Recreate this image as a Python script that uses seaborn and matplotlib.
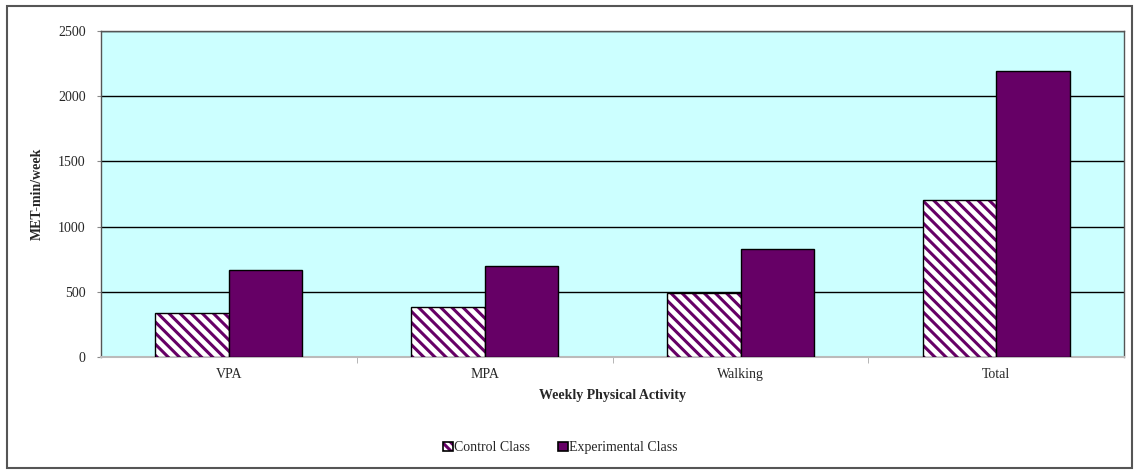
import matplotlib
matplotlib.use("Agg")
import matplotlib.pyplot as plt
import matplotlib.colors as mcolors
from matplotlib.patches import Rectangle
import numpy as np
import pandas as pd
import seaborn as sns

categories = ["VPA", "MPA", "Walking", "Total"]
groups = ["Control Class", "Experimental Class"]
control = [335, 383, 490, 1203]
experimental = [668, 698, 828, 2193]

purple = "#660066"


def main():
    sns.set_style("white")
    plt.rcParams["font.family"] = ["Liberation Serif", "DejaVu Serif"]
    plt.rcParams["hatch.linewidth"] = 2.2

    df = pd.DataFrame({
        "activity": categories * 2,
        "group": [groups[0]] * 4 + [groups[1]] * 4,
        "value": control + experimental,
    })

    fig = plt.figure(figsize=(11.39, 4.74), dpi=100)
    ax = fig.add_axes([0.0887, 0.2468, 0.8983, 0.6878])

    sns.barplot(data=df, x="activity", y="value", hue="group", order=categories,
                hue_order=groups, palette=["white", purple], saturation=1, width=0.575,
                edgecolor="black", linewidth=1.0, ax=ax, zorder=3)

    # hatch the control bars with purple diagonal stripes
    for p in ax.containers[0]:
        p.set_hatch("\\\\\\")
        p._hatch_color = mcolors.to_rgba(purple)

    ax.set_facecolor("#CCFFFF")
    ax.set_ylim(0, 2500)
    ax.set_yticks([0, 500, 1000, 1500, 2000, 2500])
    ax.set_xlim(-0.5, 3.5)
    ax.yaxis.grid(True, color="black", linewidth=1.0, zorder=0)
    ax.set_axisbelow(True)

    ax.set_xticks([0.5, 1.5, 2.5], minor=True)
    ax.tick_params(axis="x", which="major", length=0, labelsize=10, pad=8)
    ax.tick_params(axis="x", which="minor", length=4, color="#aaaaaa", direction="out", bottom=True)
    ax.tick_params(axis="y", length=3, labelsize=10, pad=8, left=True, color="#888888")

    for s in ["left", "right", "top"]:
        ax.spines[s].set_color("#555555")
        ax.spines[s].set_linewidth(1.0)
    ax.spines["bottom"].set_color("#bbbbbb")
    ax.spines["bottom"].set_linewidth(1.5)

    ax.set_xlabel("Weekly Physical Activity", fontsize=10, fontweight="bold", labelpad=6)
    ax.set_ylabel("MET-min/week", fontsize=10, fontweight="bold", labelpad=10)

    leg_old = ax.get_legend()
    if leg_old is not None:
        leg_old.remove()
    handles = [ax.containers[0], ax.containers[1]]
    leg = fig.legend(handles, groups, loc="center", bbox_to_anchor=(0.492, 0.055),
                     ncol=2, frameon=False, fontsize=10, handlelength=0.7,
                     handleheight=0.7, handletextpad=0.1, columnspacing=2.0)
    h0 = leg.legend_handles[0]
    h0.set_hatch("\\\\\\\\")
    h0._hatch_color = mcolors.to_rgba(purple)
    for h in leg.legend_handles:
        h.set_linewidth(1.2)

    # outer frame
    fig.add_artist(Rectangle((0.006, 0.012), 0.988, 0.975, transform=fig.transFigure,
                             fill=False, edgecolor="#555555", linewidth=1.5))

    fig.savefig("out.png", dpi=100)


if __name__ == "__main__":
    main()
